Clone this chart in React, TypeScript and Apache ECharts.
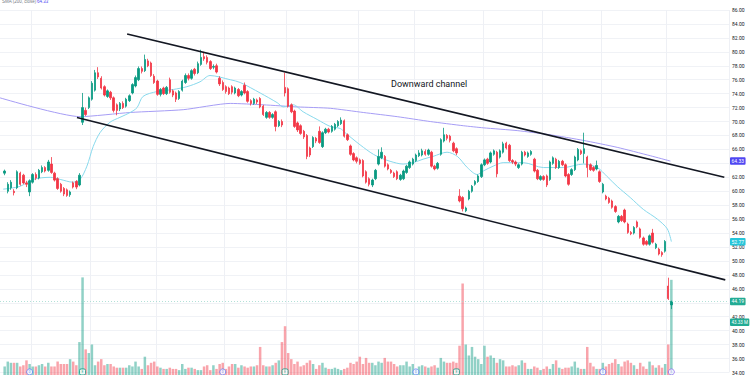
import React, { useEffect, useRef } from "react";
import * as echarts from "echarts";

// Daily candles: [open, close, low, high]
const candles: number[][] = [
  [62.6, 62.9, 62.3, 63.1], [60.0, 61.0, 59.7, 61.3], [60.5, 61.3, 60.2, 61.6], [60.0, 59.8, 59.4, 60.3], [60.5, 62.8, 60.3, 63.0],
  [62.6, 61.0, 60.8, 62.8], [62.3, 61.2, 61.0, 62.5], [61.2, 61.0, 60.6, 61.5], [59.9, 61.5, 59.3, 61.7], [61.3, 62.4, 61.1, 62.6],
  [62.4, 61.9, 61.6, 62.7], [61.9, 63.0, 61.7, 63.2], [62.8, 63.4, 62.6, 63.7], [63.4, 62.9, 62.7, 63.6], [63.0, 64.2, 62.8, 64.5],
  [63.9, 62.7, 62.5, 64.9], [62.6, 61.6, 61.4, 62.8], [61.8, 60.4, 60.2, 62.0], [61.0, 60.0, 59.8, 61.2], [60.4, 59.6, 59.3, 60.6],
  [60.2, 59.4, 59.2, 60.4], [59.5, 59.9, 59.2, 60.1], [61.2, 60.6, 60.4, 61.4], [61.4, 60.6, 60.3, 61.6], [60.9, 62.3, 60.7, 62.6],
  [69.9, 72.0, 69.5, 74.1], [71.6, 71.0, 70.8, 72.0], [72.0, 73.4, 71.8, 73.6], [73.2, 75.5, 73.0, 75.8], [74.5, 77.0, 74.3, 77.4],
  [77.0, 76.4, 76.1, 77.8], [76.2, 74.8, 74.6, 76.5], [75.0, 73.8, 73.6, 75.2], [73.6, 74.4, 73.4, 74.6], [74.2, 73.4, 73.1, 74.4],
  [73.4, 71.6, 71.3, 73.6], [72.4, 71.6, 70.9, 72.6], [71.8, 72.6, 71.5, 72.8], [72.6, 72.0, 71.8, 72.9], [72.2, 73.2, 72.0, 73.4],
  [73.0, 73.7, 72.8, 73.9], [74.1, 75.3, 73.9, 75.5], [75.1, 76.3, 74.9, 76.6], [76.0, 77.6, 75.8, 77.9], [77.6, 77.2, 76.9, 77.9],
  [77.3, 78.9, 77.1, 79.6], [78.7, 78.0, 77.8, 79.0], [78.4, 76.6, 76.4, 78.6], [76.5, 75.6, 75.4, 76.8], [75.8, 73.9, 73.7, 76.0],
  [73.9, 74.6, 73.6, 74.8], [74.8, 74.0, 73.8, 75.0], [74.0, 74.9, 73.8, 75.1], [76.0, 74.2, 74.0, 76.3], [74.4, 73.8, 73.5, 74.6],
  [74.1, 73.2, 72.8, 74.3], [73.3, 74.3, 73.1, 74.5], [74.5, 75.8, 74.3, 76.0], [75.6, 76.6, 75.4, 76.9], [76.6, 76.2, 75.9, 76.9],
  [76.2, 77.3, 76.0, 77.5], [77.5, 76.9, 76.6, 77.7], [77.0, 78.3, 76.8, 78.6], [78.2, 79.2, 78.0, 80.3], [79.3, 79.0, 78.7, 80.0],
  [79.2, 78.5, 78.2, 79.5], [78.6, 77.6, 77.4, 78.8], [77.8, 77.9, 77.5, 78.2], [78.0, 77.1, 76.9, 78.3], [76.2, 75.4, 75.1, 76.5],
  [75.6, 74.6, 74.4, 75.9], [75.0, 74.3, 74.0, 75.2], [74.8, 74.0, 73.8, 75.0], [75.0, 74.2, 73.9, 75.2], [74.1, 74.8, 73.9, 75.0],
  [74.6, 73.7, 73.5, 74.8], [73.8, 74.3, 73.6, 74.5], [75.2, 74.1, 73.9, 75.6], [74.3, 72.9, 72.7, 74.5], [73.0, 72.6, 72.3, 73.2],
  [72.6, 73.2, 72.4, 73.4], [73.1, 72.8, 72.5, 73.3], [73.3, 72.1, 71.9, 73.5], [72.2, 71.0, 70.8, 72.4], [70.6, 71.3, 70.4, 71.5],
  [71.3, 70.6, 70.4, 71.5], [70.6, 71.0, 70.4, 71.2], [71.4, 69.3, 68.6, 71.6], [69.4, 70.0, 69.2, 70.2], [70.0, 69.5, 69.2, 70.3],
  [74.9, 74.1, 73.6, 77.0], [74.7, 72.2, 72.0, 74.9], [72.4, 71.4, 71.2, 72.6], [71.5, 69.3, 69.1, 71.7], [69.8, 68.8, 68.5, 70.0],
  [69.4, 68.3, 68.1, 69.6], [68.6, 67.8, 67.5, 68.8], [68.0, 65.0, 64.6, 68.2], [66.2, 65.2, 64.9, 66.4], [66.4, 67.7, 66.2, 67.9],
  [67.6, 67.2, 66.9, 67.8], [68.6, 67.0, 66.8, 69.3], [66.4, 68.4, 66.2, 68.6], [68.4, 68.9, 68.2, 69.1], [68.9, 68.5, 68.3, 69.1],
  [68.6, 69.3, 68.4, 69.5], [68.9, 69.6, 68.7, 69.8], [69.4, 70.0, 69.2, 70.2], [69.7, 70.2, 69.5, 70.6], [70.1, 67.9, 67.7, 70.3],
  [68.1, 67.4, 67.2, 68.3], [66.5, 65.3, 65.1, 66.7], [65.4, 64.5, 64.3, 65.6], [64.8, 64.3, 64.0, 65.0], [64.5, 64.0, 63.8, 64.7],
  [64.4, 62.2, 62.0, 64.6], [62.8, 61.3, 61.1, 63.0], [61.8, 61.0, 60.7, 62.0], [60.9, 61.6, 60.6, 61.8], [61.8, 63.0, 61.6, 63.2],
  [63.9, 65.0, 63.7, 66.0], [64.8, 65.6, 64.6, 66.3], [65.0, 63.6, 63.4, 65.2], [63.8, 63.2, 63.0, 64.0], [63.0, 62.7, 62.5, 63.2],
  [62.6, 62.1, 61.9, 62.8], [62.8, 61.8, 61.6, 63.0], [61.7, 62.3, 61.5, 62.5], [61.8, 62.9, 61.6, 63.1], [62.7, 63.6, 62.5, 63.8],
  [63.4, 64.2, 63.2, 64.4], [63.9, 64.6, 63.7, 64.8], [64.4, 65.2, 64.2, 65.4], [65.1, 65.5, 64.9, 65.9], [65.2, 65.8, 65.0, 66.1],
  [65.7, 65.3, 65.1, 66.0], [65.3, 65.9, 65.1, 66.1], [65.6, 63.6, 63.4, 65.8], [63.6, 63.2, 63.0, 63.8], [63.3, 64.0, 63.1, 64.2],
  [65.3, 67.4, 65.1, 67.6], [67.2, 68.1, 67.0, 69.1], [68.0, 67.6, 67.3, 68.2], [67.9, 67.3, 67.0, 68.1], [66.9, 65.8, 65.6, 67.1],
  [66.1, 65.5, 65.2, 66.3], [59.3, 58.6, 58.4, 60.3], [59.1, 57.5, 57.1, 59.3], [57.2, 57.6, 57.0, 57.8], [58.9, 60.0, 58.7, 60.2],
  [60.0, 60.7, 59.8, 60.9], [61.0, 61.4, 60.8, 61.6], [61.4, 62.2, 61.2, 62.4], [62.1, 63.8, 61.9, 64.0], [63.8, 64.5, 63.6, 64.7],
  [64.6, 64.0, 63.8, 64.8], [64.2, 65.5, 64.0, 65.7], [65.3, 65.8, 65.1, 66.0], [65.6, 62.5, 62.0, 65.8], [64.9, 65.8, 64.7, 66.0],
  [65.6, 66.8, 65.4, 67.1], [66.9, 66.2, 66.0, 67.1], [66.6, 64.4, 64.2, 66.8], [64.4, 64.2, 63.9, 64.6], [64.2, 63.9, 63.6, 64.4],
  [63.4, 63.8, 63.2, 64.0], [63.9, 65.6, 63.7, 65.8], [65.6, 65.2, 65.0, 65.8], [65.0, 65.5, 64.8, 65.7], [65.3, 65.7, 65.1, 65.9],
  [64.6, 62.9, 62.7, 64.8], [63.0, 61.8, 61.6, 63.2], [61.7, 62.1, 61.5, 62.3], [62.1, 61.7, 61.5, 62.3], [62.2, 60.9, 60.6, 62.4],
  [61.7, 64.2, 61.5, 64.4], [64.0, 64.8, 63.8, 65.0], [64.6, 63.4, 63.2, 64.8], [63.4, 64.3, 63.2, 64.5], [64.3, 63.8, 63.6, 64.5],
  [63.8, 62.2, 62.0, 64.0], [62.4, 61.0, 60.8, 62.6], [62.4, 63.1, 62.2, 63.3], [63.1, 64.9, 62.9, 65.1], [64.5, 66.0, 64.3, 66.2],
  [65.8, 65.4, 65.2, 66.0], [65.4, 66.1, 64.0, 68.4], [64.9, 63.4, 62.0, 65.1], [63.8, 63.1, 62.9, 64.0], [63.4, 63.0, 62.8, 63.6],
  [63.2, 63.7, 63.0, 64.4], [62.8, 61.4, 61.2, 63.0], [59.9, 61.0, 59.7, 61.2], [59.3, 58.9, 58.7, 59.5], [59.0, 58.4, 58.2, 59.2],
  [58.6, 57.7, 57.5, 58.8], [57.8, 57.1, 56.9, 58.0], [55.6, 56.4, 55.4, 56.6], [56.4, 55.8, 55.6, 56.6], [57.3, 55.6, 55.4, 57.5],
  [55.3, 54.1, 53.9, 55.5], [54.1, 53.9, 53.7, 54.3], [54.0, 54.8, 53.8, 55.0], [55.6, 54.9, 54.7, 55.8], [54.6, 53.4, 53.2, 54.8],
  [53.3, 52.4, 52.2, 53.5], [52.8, 52.4, 52.2, 53.0], [52.4, 53.6, 52.2, 53.8], [54.0, 52.7, 52.5, 54.6], [51.9, 52.4, 51.7, 52.6],
  [51.7, 51.0, 50.8, 51.9], [51.2, 50.9, 50.6, 51.4], [51.4, 52.8, 51.2, 53.0], [46.4, 44.6, 44.4, 47.6], [43.7, 44.19, 43.1, 44.3],
];

// Volume in millions, one per candle
const volumes: number[] = [
  7, 11, 10, 10, 10, 7, 8, 12, 9, 7,
  7, 8, 9, 7, 10, 7, 7, 11, 9, 9,
  9, 13, 11, 8, 27, 80, 21, 18, 25, 8,
  11, 13, 8, 9, 9, 7, 6, 6, 6, 6,
  8, 7, 11, 7, 5, 15, 8, 10, 11, 7,
  6, 5, 5, 6, 5, 5, 4, 9, 5, 6,
  6, 5, 4, 4, 7, 8, 4, 8, 5, 9,
  10, 5, 7, 9, 9, 6, 8, 7, 6, 7,
  7, 8, 23, 8, 7, 7, 8, 10, 12, 27,
  40, 18, 13, 9, 11, 7, 8, 10, 12, 9, 5,
  8, 10, 6, 5, 5, 6, 5, 4, 5, 6,
  10, 9, 11, 15, 9, 14, 10, 10, 8, 11,
  10, 14, 11, 11, 9, 7, 8, 8, 11, 7,
  9, 4, 7, 8, 7, 6, 7, 8, 6, 14,
  11, 10, 10, 11, 10, 24, 75, 25, 16, 23,
  15, 13, 9, 24, 15, 16, 14, 10, 13, 12,
  7, 7, 8, 7, 8, 12, 10, 5, 5, 7,
  6, 4, 5, 7, 5, 9, 12, 6, 5, 6,
  6, 7, 11, 6, 5, 5, 23, 10, 7, 5,
  5, 10, 7, 9, 10, 13, 9, 7, 11, 12,
  10, 8, 5, 10, 7, 5, 11, 8, 6, 8,
  6, 9, 25, 78, 43.33,
];

// Short moving average: [slot, price]
const smaFast: number[][] = [
  [0.5, 60.3], [5.9, 60.7], [10.1, 61.7], [15.6, 62.0], [18.8, 61.7], [22.9, 61.3], [25.2, 61.7], [27.4, 63.6],
  [29.4, 66.4], [31.6, 68.4], [34.8, 69.9], [38.0, 70.6], [41.3, 71.3], [43.5, 72.0], [45.4, 73.6], [49.9, 74.3],
  [55.1, 74.6], [59.5, 75.0], [63.7, 75.7], [66.9, 76.6], [73.4, 76.0], [76.6, 75.6], [83.0, 74.1], [88.5, 72.7],
  [90.4, 72.1], [93.6, 72.4], [96.8, 71.4], [101.3, 70.3], [105.5, 69.3], [108.7, 69.0], [110.3, 68.4], [114.1, 67.0],
  [118.3, 65.6], [120.6, 65.0], [124.7, 64.3], [128.9, 63.9], [132.1, 64.1], [135.3, 64.6], [138.5, 65.0], [143.0, 65.6],
  [146.3, 65.0], [149.5, 63.4], [152.7, 62.4], [154.6, 62.9], [157.8, 63.6], [161.0, 64.1], [167.5, 64.1], [173.9, 63.4],
  [180.3, 63.4], [186.7, 63.9], [191.2, 63.4], [194.4, 62.1], [197.6, 60.7], [201.8, 59.1], [206.0, 57.4], [210.5, 56.0],
  [213.7, 54.6], [215.0, 52.77],
];

// 200-day moving average: [slot, price]
const smaSlow: number[][] = [
  [-0.5, 73.4], [25.2, 70.7], [41.3, 71.3], [58.3, 71.7], [73.4, 72.6], [84.0, 72.4], [94.9, 72.1], [105.5, 71.9],
  [116.1, 71.3], [127.0, 70.7], [137.6, 70.0], [148.2, 69.4], [154.6, 69.1], [165.5, 68.7], [176.1, 68.1], [186.7, 67.3],
  [197.6, 66.3], [208.2, 65.1], [214.7, 64.33],
];

const upperChannel: number[][] = [[40.3, 82.57], [232.0, 62.0]];
const lowerChannel: number[][] = [[24.2, 70.57], [232.3, 47.29]];

const monthStartSlots: number[] = [10, 29, 50, 72, 92, 115, 133, 155, 174, 193, 214];

const eventSlots: number[] = [9, 26, 71, 91, 133, 146, 193, 215];
const eventKinds: string[] = ["D", "E", "D", "E", "D", "E", "D", "S"];

// Axis ticks hidden behind the price tags in the reference
const coveredTicks: number[] = [64, 44];

const lastPrice = 44.19;
const lastVolume = 43.33;
const fastLast = 52.77;
const slowLast = 64.33;

const PRICE_MIN = 34;
const PRICE_MAX = 86;
const PRICE_STEP = 2;
const VOLUME_MAX = 100;
const TOTAL_SLOTS = 234;
const FIRST_SLOT = 1;

const UP = "#089981";
const DOWN = "#f23645";
const UP_VOL = "rgba(8,153,129,0.45)";
const DOWN_VOL = "rgba(242,54,69,0.45)";

function tag(text: string, bg: string) {
  return {
    show: true,
    position: "end",
    formatter: text,
    backgroundColor: bg,
    color: "#ffffff",
    fontSize: 5,
    padding: [1.5, 1.5, 1, 1.5],
    distance: 1,
    borderRadius: 1,
  };
}

export default function App() {
  const ref = useRef<HTMLDivElement>(null);

  useEffect(() => {
    document.body.style.margin = "0";
    const chart = echarts.init(ref.current!, null, { renderer: "svg" });
    const slots = Array.from({ length: TOTAL_SLOTS }, (_, i) => String(i));
    const candleData = slots.map((_, s) => {
      const c = candles[s - FIRST_SLOT];
      return c ? c : ["-", "-", "-", "-"];
    });
    const volumeData = slots.map((_, s) => {
      const i = s - FIRST_SLOT;
      const c = candles[i];
      if (!c) return "-";
      return { value: volumes[i], itemStyle: { color: c[1] >= c[0] ? UP_VOL : DOWN_VOL } };
    });
    const eventColor = (k: string) => (k === "E" ? UP : k === "D" ? "#5b7cf7" : "#8e6cf0");
    const eventData = eventSlots.map((s, i) => ({
      value: [s, 2.5],
      name: eventKinds[i],
      symbol: eventKinds[i] === "E" ? "roundRect" : "circle",
      itemStyle: { color: "#ffffff", borderColor: eventColor(eventKinds[i]), borderWidth: 1 },
      label: { color: eventColor(eventKinds[i]) },
    }));

    const option: any = {
      animation: false,
      backgroundColor: "#ffffff",
      textStyle: { fontFamily: "Roboto, 'DejaVu Sans', sans-serif" },
      grid: [
        { left: 0, right: 21, top: 10, bottom: 1 },
        { left: 0, right: 21, top: 253, bottom: 0 },
      ],
      xAxis: [
        {
          type: "category",
          gridIndex: 0,
          data: slots,
          boundaryGap: true,
          axisLine: { show: false },
          axisTick: { show: false },
          axisLabel: { show: false },
          splitLine: {
            show: true,
            interval: (idx: number) => monthStartSlots.includes(idx),
            lineStyle: { color: "#eef0f5", width: 1 },
          },
        },
        { type: "category", gridIndex: 1, data: slots, boundaryGap: true, show: false },
        { type: "value", gridIndex: 0, min: -0.5, max: TOTAL_SLOTS - 0.5, show: false },
      ],
      yAxis: [
        {
          type: "value",
          gridIndex: 0,
          position: "right",
          min: PRICE_MIN,
          max: PRICE_MAX,
          interval: PRICE_STEP,
          axisLine: { show: false },
          axisTick: { show: false },
          axisLabel: {
            fontSize: 5,
            color: "#131722",
            margin: 3,
            formatter: (v: number) => (coveredTicks.includes(v) ? "" : v.toFixed(2)),
          },
          splitLine: { lineStyle: { color: "#f0f2f6", width: 1 } },
        },
        { type: "value", gridIndex: 1, min: 0, max: VOLUME_MAX, show: false },
      ],
      series: [
        {
          type: "bar",
          xAxisIndex: 1,
          yAxisIndex: 1,
          data: volumeData,
          barWidth: "80%",
          z: 1,
          markLine: {
            silent: true,
            symbol: ["none", "none"],
            data: [{ yAxis: lastVolume }],
            lineStyle: { color: "rgba(0,0,0,0)", width: 0 },
            label: { ...tag(lastVolume.toFixed(2) + " M", "#22ab94"), fontSize: 4.5 },
          },
        },
        {
          type: "scatter",
          xAxisIndex: 1,
          yAxisIndex: 1,
          data: eventData,
          symbolSize: 6,
          z: 2,
          label: { show: true, formatter: "{b}", fontSize: 3.5, position: "inside" },
        },
        {
          type: "line",
          xAxisIndex: 2,
          yAxisIndex: 0,
          data: smaSlow,
          symbol: "none",
          smooth: 0.2,
          lineStyle: { color: "#a69df5", width: 1 },
          z: 3,
          markLine: {
            silent: true,
            symbol: ["none", "none"],
            data: [{ yAxis: slowLast }],
            lineStyle: { color: "rgba(0,0,0,0)", width: 0 },
            label: tag(slowLast.toFixed(2), "#4f47f2"),
          },
        },
        {
          type: "line",
          xAxisIndex: 2,
          yAxisIndex: 0,
          data: smaFast,
          symbol: "none",
          smooth: 0.3,
          lineStyle: { color: "#88d9ec", width: 1 },
          z: 3,
          markLine: {
            silent: true,
            symbol: ["none", "none"],
            data: [{ yAxis: fastLast }],
            lineStyle: { color: "rgba(0,0,0,0)", width: 0 },
            label: tag(fastLast.toFixed(2), "#26c6da"),
          },
        },
        {
          type: "candlestick",
          xAxisIndex: 0,
          yAxisIndex: 0,
          data: candleData,
          barWidth: "62%",
          z: 4,
          itemStyle: { color: UP, color0: DOWN, borderColor: UP, borderColor0: DOWN, borderWidth: 0.8 },
          markLine: {
            silent: true,
            symbol: ["none", "none"],
            data: [{ yAxis: lastPrice }],
            lineStyle: { color: "#9fd9ce", width: 0.8, type: [1, 2] },
            label: tag(lastPrice.toFixed(2), "#22ab94"),
          },
        },
        {
          type: "line",
          xAxisIndex: 2,
          yAxisIndex: 0,
          data: upperChannel,
          symbol: "none",
          lineStyle: { color: "#131722", width: 1.6 },
          z: 6,
        },
        {
          type: "line",
          xAxisIndex: 2,
          yAxisIndex: 0,
          data: lowerChannel,
          symbol: "none",
          lineStyle: { color: "#131722", width: 1.6 },
          z: 6,
        },
      ],
      graphic: [
        {
          type: "text",
          x: 391,
          y: 84,
          z: 10,
          style: {
            text: "Downward channel",
            fontSize: 9,
            fill: "#131722",
            verticalAlign: "middle",
            fontFamily: "Roboto, sans-serif",
          },
        },
        {
          type: "text",
          x: 2,
          y: 1,
          z: 10,
          style: { text: "SMA (200, close)", fontSize: 4.5, fill: "#787b86", verticalAlign: "middle" },
        },
        {
          type: "text",
          x: 37,
          y: 1,
          z: 10,
          style: { text: slowLast.toFixed(2), fontSize: 4.5, fill: "#4f47f2", verticalAlign: "middle" },
        },
      ],
    };
    chart.setOption(option);
    return () => chart.dispose();
  }, []);

  return <div ref={ref} style={{ width: 750, height: 375 }} />;
}
